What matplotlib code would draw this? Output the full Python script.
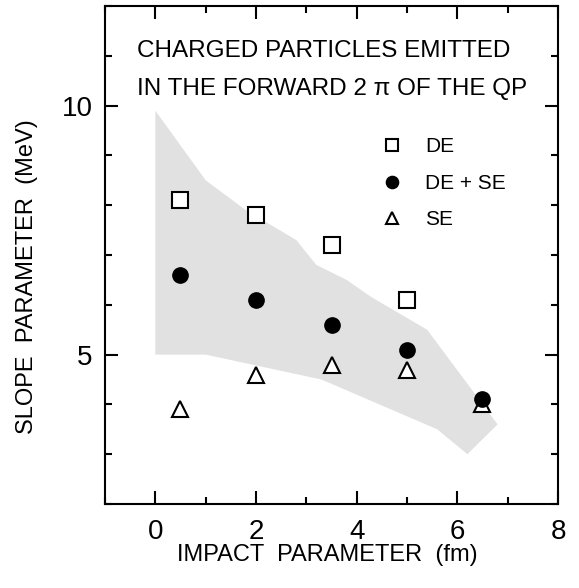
import matplotlib
matplotlib.use('Agg')
import matplotlib.pyplot as plt
from matplotlib.ticker import MultipleLocator

plt.rcParams['font.family'] = ['Liberation Sans', 'DejaVu Sans']

# shaded band (calculation envelope)
band_upper_x = [0.0, 1.0, 1.8, 2.3, 2.8, 3.2, 3.8, 4.3, 5.4, 6.8]
band_upper_y = [9.9, 8.5, 7.9, 7.6, 7.3, 6.8, 6.5, 6.15, 5.5, 3.6]
band_lower_x = [6.2, 5.6, 3.3, 1.0, 0.0]
band_lower_y = [3.0, 3.5, 4.5, 5.0, 5.0]

# measured slope parameters (MeV) vs impact parameter (fm)
b_de = [0.5, 2.0, 3.5, 5.0]
t_de = [8.1, 7.8, 7.2, 6.1]
b_dese = [0.5, 2.0, 3.5, 5.0, 6.5]
t_dese = [6.6, 6.1, 5.6, 5.1, 4.1]
b_se = [0.5, 2.0, 3.5, 5.0, 6.5]
t_se = [3.9, 4.6, 4.8, 4.7, 4.0]

fig = plt.figure(figsize=(5.79, 5.88), dpi=100)
ax = fig.add_axes([105 / 579, 1 - 504 / 588, 453 / 579, 498 / 588])

ax.fill(band_upper_x + band_lower_x, band_upper_y + band_lower_y,
        color='#e1e1e1', lw=0, zorder=1)

ax.plot(b_de, t_de, ls='none', marker='s', ms=11, mfc='white', mec='black',
        mew=1.5, label='DE', zorder=3)
ax.plot(b_dese, t_dese, ls='none', marker='o', ms=11, mfc='black', mec='black',
        mew=1, label='DE + SE', zorder=4)
ax.plot(b_se, t_se, ls='none', marker='^', ms=11, mfc='white', mec='black',
        mew=1.5, label='SE', zorder=3)

ax.set_xlim(-1, 8)
ax.set_ylim(2, 12)
ax.xaxis.set_major_locator(MultipleLocator(2))
ax.xaxis.set_minor_locator(MultipleLocator(1))
ax.yaxis.set_major_locator(MultipleLocator(5))
ax.yaxis.set_minor_locator(MultipleLocator(1))
ax.set_xticks([0, 2, 4, 6, 8])
ax.tick_params(which='both', direction='in', top=True, right=True, width=1.5)
ax.tick_params(which='major', length=9.5, labelsize=20, pad=9)
ax.tick_params(axis='x', which='major', pad=11)
ax.tick_params(which='minor', length=5)
for s in ax.spines.values():
    s.set_linewidth(1.5)

ax.set_xlabel('IMPACT  PARAMETER  (fm)', fontsize=17)
ax.set_ylabel('SLOPE  PARAMETER  (MeV)', fontsize=17)
ax.xaxis.set_label_coords(0.49, -0.08)
ax.yaxis.set_label_coords(-0.148, 0.456)

ax.text(-0.36, 10.98, 'CHARGED PARTICLES EMITTED', fontsize=17.5, ha='left', va='baseline')
ax.text(-0.36, 10.22, 'IN THE FORWARD 2 \u03c0 OF THE QP', fontsize=17.5, ha='left', va='baseline')

ax.legend(loc='upper left', bbox_to_anchor=(0.61, 0.736), frameon=False,
          fontsize=15, markerscale=0.8, handlelength=1.0, handletextpad=1.09,
          labelspacing=0.84, borderpad=0, borderaxespad=0)

fig.savefig('out.png', dpi=100)
